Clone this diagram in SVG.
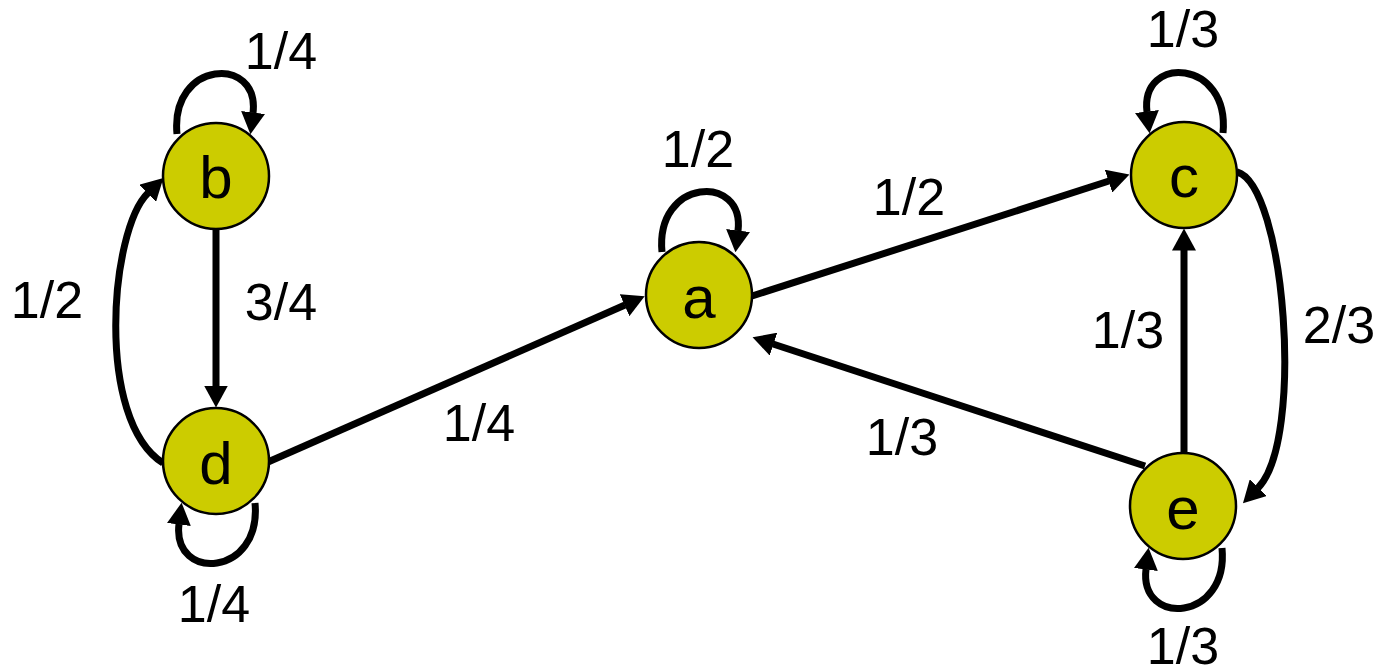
<svg xmlns="http://www.w3.org/2000/svg" width="1379" height="670" viewBox="0 0 1379 670">
<style>
.node circle{fill:#CCCC00;stroke:#000;stroke-width:2.5}
.node text{font-family:"Liberation Sans",Arial,sans-serif;font-size:60px;text-anchor:middle;fill:#000}
.edge{fill:none;stroke:#000;stroke-width:7;marker-end:url(#ah)}
.lbl{font-family:"Liberation Sans",Arial,sans-serif;font-size:52px;text-anchor:middle;fill:#000}
</style>
<defs>
<marker id="ah" viewBox="0 0 22 24" markerWidth="22" markerHeight="24" refX="0.5" refY="12" markerUnits="userSpaceOnUse" orient="auto">
<path d="M0,0 L22,12 L0,24 z" fill="#000"/>
</marker>
</defs>
<rect width="1379" height="670" fill="#fff"/>
<g id="connectors">
<path class="edge" d="M216,230 L216,386"/>
<path class="edge" d="M163,463 C95,420 110,230 148,193"/>
<path class="edge" d="M268,462 L625,305"/>
<path class="edge" d="M752,296 L1109,181"/>
<path class="edge" d="M1145,466 L773,344"/>
<path class="edge" d="M1184,453 L1184,250"/>
<path class="edge" d="M1237,172 C1285,185 1305,440 1258,488"/>
<path class="edge" d="M177,134 C170,60 260,55 253,113"/>
<path class="edge" d="M662,252 C655,178 745,173 738,231"/>
<path class="edge" d="M1223,133 C1230,59 1140,54 1147,112"/>
<path class="edge" d="M1222,548 C1229,622 1139,627 1146,569"/>
<path class="edge" d="M255,503 C262,577 172,582 179,524"/>
</g>
<g id="labels">
<text class="lbl" x="281" y="69">1/4</text>
<text class="lbl" x="698" y="167">1/2</text>
<text class="lbl" x="909" y="215">1/2</text>
<text class="lbl" x="1183" y="47">1/3</text>
<text class="lbl" x="47" y="318">1/2</text>
<text class="lbl" x="281" y="320">3/4</text>
<text class="lbl" x="479" y="441">1/4</text>
<text class="lbl" x="1128" y="348">1/3</text>
<text class="lbl" x="1339" y="343">2/3</text>
<text class="lbl" x="902" y="455">1/3</text>
<text class="lbl" x="214" y="622">1/4</text>
<text class="lbl" x="1183" y="664">1/3</text>
</g>
<g id="node-b" class="node"><circle cx="216" cy="176" r="53"/><text x="216" y="198">b</text></g>
<g id="node-a" class="node"><circle cx="699" cy="295" r="53"/><text x="699" y="318">a</text></g>
<g id="node-c" class="node"><circle cx="1184" cy="175" r="53"/><text x="1184" y="197">c</text></g>
<g id="node-d" class="node"><circle cx="216" cy="461" r="53"/><text x="216" y="484">d</text></g>
<g id="node-e" class="node"><circle cx="1183" cy="506" r="53"/><text x="1183" y="529">e</text></g>
</svg>
